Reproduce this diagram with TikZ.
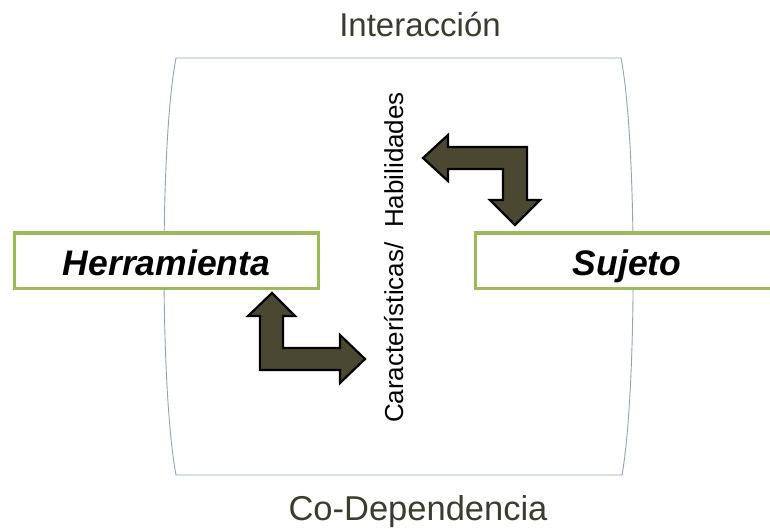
\documentclass[tikz,border=0pt]{standalone}
\usepackage{fontspec}
\setmainfont{Liberation Sans}
\definecolor{marco}{HTML}{8AA4C2}
\definecolor{verde}{HTML}{9BBB59}
\definecolor{oliva}{HTML}{4B4832}
\definecolor{titulo}{HTML}{3C3C2E}
\begin{document}
\begin{tikzpicture}[x=1pt,y=-1pt,
	caja/.style={draw=verde,line width=3pt,fill=white,minimum width=304pt,minimum height=55pt,
		text height=29pt,text depth=0pt,
		font=\fontsize{35.5}{40}\selectfont\bfseries\itshape},
	rotulo/.style={text=titulo,anchor=base,font=\fontsize{33}{38}\selectfont},
	flecha/.style={fill=oliva,draw=black,line width=2.2pt,line join=miter}]
\useasboundingbox (0,0) rectangle (770,529);
\clip (0,0) rectangle (770,529);

% marco
\draw[marco,line width=0.9pt] (176,58) -- (621,58)
	.. controls (637,140) and (637,390) .. (622,475) -- (176,475)
	.. controls (160,390) and (160,140) .. (176,58);

\node[rotulo] (interaccion) at (420,37) {Interacción};
\node[rotulo,font=\fontsize{34.5}{40}\selectfont] (codependencia) at (418,520) {Co-Dependencia};

\node[caja] (herramienta) at (166.5,260.5) {Herramienta};
\node[caja] (sujeto) at (627,260.5) {Sujeto};

\node[anchor=base,rotate=90,font=\fontsize{26}{30}\selectfont] (caracteristicas) at (403,257.5)
	{Características/\ \ Habilidades};

% flechas
\draw[flecha] (423,158) -- (448,135) -- (448,147) -- (527,147) -- (527,200) -- (540,200)
	-- (515,225) -- (490,200) -- (503,200) -- (503,169) -- (448,169) -- (448,181) -- cycle;
\draw[flecha] (272,293) -- (295,316) -- (283,316) -- (283,348) -- (340,348) -- (340,335)
	-- (365,359) -- (340,383) -- (340,370) -- (260,370) -- (260,316) -- (248,316) -- cycle;
\end{tikzpicture}
\end{document}
